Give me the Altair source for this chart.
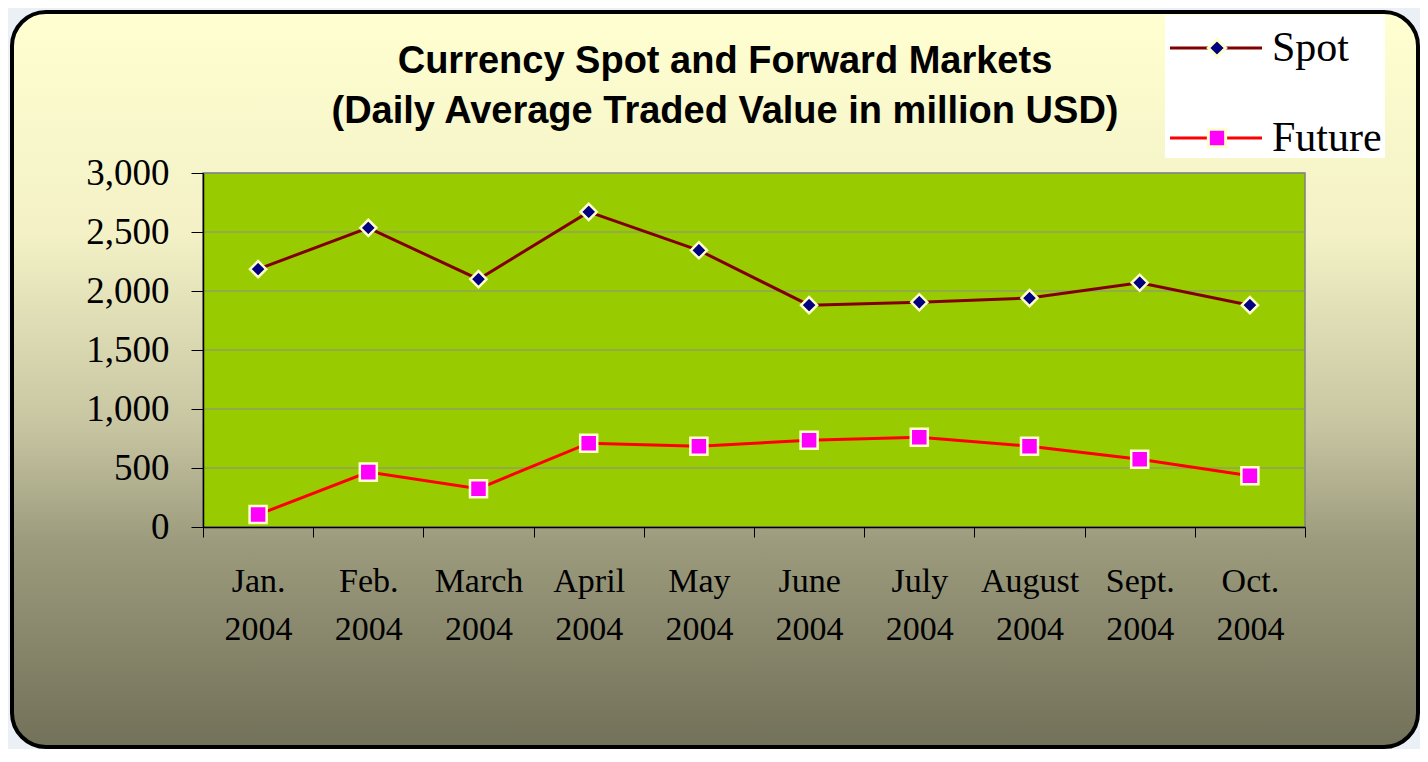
import altair as alt
import pandas as pd

months = ["Jan.|2004", "Feb.|2004", "March|2004", "April|2004", "May|2004",
          "June|2004", "July|2004", "August|2004", "Sept.|2004", "Oct.|2004"]
spot = [2185, 2535, 2100, 2670, 2345, 1880, 1905, 1940, 2070, 1880]
future = [105, 465, 325, 710, 685, 735, 760, 685, 575, 435]
grid_values = [500, 1000, 1500, 2000, 2500, 3000]

W, H = 1102, 354
PL, PT, PR, PB = 195, 165, 115, 222

df = pd.DataFrame({"month": months, "Spot": spot, "Future": future})
one = pd.DataFrame({"a": [0]})
grid_df = pd.DataFrame({"v": grid_values})

serif = "Liberation Serif"

xenc = alt.X("month:N", sort=months, scale=alt.Scale(paddingInner=0, paddingOuter=0),
             axis=alt.Axis(title=None, tickBand="extent", labelAngle=0, zindex=1,
                           labelExpr="split(datum.label, '|')", labelFont=serif,
                           labelFontSize=34, labelLineHeight=48, labelColor="#000000",
                           labelPadding=27, tickColor="#000000", tickSize=10,
                           domainColor="#000000", domainWidth=1.5, labelBaseline="top"))
yscale = alt.Scale(domain=[0, 3000], nice=False)
yenc_axis = alt.Axis(title=None, values=[0, 500, 1000, 1500, 2000, 2500, 3000], format=",.0f",
                     labelFont=serif, labelFontSize=37, labelColor="#000000", labelPadding=22,
                     tickColor="#000000", tickSize=12, domainColor="#000000", domainWidth=1.5,
                     grid=False, zindex=1)

bg = alt.Chart(one).mark_rect(
    fill=alt.Gradient(gradient="linear", x1=0, x2=0, y1=0, y2=1,
                      stops=[alt.GradientStop(color="#FFFFD2", offset=0),
                             alt.GradientStop(color="#F3F1C5", offset=0.3),
                             alt.GradientStop(color="#C8C6A2", offset=0.56),
                             alt.GradientStop(color="#9C9B7D", offset=0.72),
                             alt.GradientStop(color="#727159", offset=1)]),
    stroke="#000000", strokeWidth=4, cornerRadius=34
).encode(x=alt.value(-191), x2=alt.value(W + 113), y=alt.value(-161), y2=alt.value(H + 220))

plotbg = alt.Chart(one).mark_rect(fill="#99CC00", stroke="#808080", strokeWidth=1.5).encode(
    x=alt.value(0), x2=alt.value(W), y=alt.value(0), y2=alt.value(H))

grid = alt.Chart(grid_df).mark_rule(color="#8C8C8C", strokeWidth=1).encode(
    y=alt.Y("v:Q", scale=yscale, axis=yenc_axis), x=alt.value(0), x2=alt.value(W))

spot_line = alt.Chart(df).mark_line(color="#800000", strokeWidth=3).encode(
    x=xenc, y=alt.Y("Spot:Q", scale=yscale, axis=yenc_axis))
spot_pts = alt.Chart(df).mark_point(shape="diamond", filled=True, fill="#000080",
                                    stroke="#FFFFCC", strokeWidth=2.5, size=260, opacity=1).encode(
    x=xenc, y=alt.Y("Spot:Q", scale=yscale))
fut_line = alt.Chart(df).mark_line(color="#FF0000", strokeWidth=3).encode(
    x=xenc, y=alt.Y("Future:Q", scale=yscale))
fut_pts = alt.Chart(df).mark_point(shape="square", filled=True, fill="#FF00FF",
                                   stroke="#FFFFCC", strokeWidth=2.5, size=290, opacity=1).encode(
    x=xenc, y=alt.Y("Future:Q", scale=yscale))

# title
t1 = alt.Chart(one).mark_text(text="Currency Spot and Forward Markets", font="Liberation Sans",
                              fontWeight="bold", fontSize=38, color="#000000", align="center",
                              baseline="middle").encode(x=alt.value(522), y=alt.value(-111))
t2 = alt.Chart(one).mark_text(text="(Daily Average Traded Value in million USD)", font="Liberation Sans",
                              fontWeight="bold", fontSize=38, color="#000000", align="center",
                              baseline="middle").encode(x=alt.value(522), y=alt.value(-61))

# legend
leg_box = alt.Chart(one).mark_rect(fill="#FFFFFF").encode(
    x=alt.value(962), x2=alt.value(1182), y=alt.value(-158), y2=alt.value(-15))
leg = []
for name, lc, shape, fc, yy, sz in [("Spot", "#800000", "diamond", "#000080", -125, 300),
                                    ("Future", "#FF0000", "square", "#FF00FF", -35, 300)]:
    leg.append(alt.Chart(one).mark_rule(color=lc, strokeWidth=3).encode(
        x=alt.value(967), x2=alt.value(1059), y=alt.value(yy)))
    leg.append(alt.Chart(one).mark_point(shape=shape, filled=True, fill=fc, stroke="#FFFFCC",
                                         strokeWidth=3, size=sz, opacity=1).encode(
        x=alt.value(1014), y=alt.value(yy)))
    leg.append(alt.Chart(one).mark_text(text=name, font=serif, fontSize=42, color="#000000",
                                        align="left", baseline="middle").encode(
        x=alt.value(1069), y=alt.value(yy)))

chart = alt.layer(bg, plotbg, grid, spot_line, fut_line, spot_pts, fut_pts, t1, t2, leg_box, *leg).properties(
    width=W, height=H,
    autosize=alt.AutoSizeParams(type="none"),
    padding={"left": PL, "top": PT, "right": PR, "bottom": PB},
    background="#EAF0F6",
).configure_view(stroke=None)

chart.save("out.html", embed_options={"renderer": "svg", "actions": False})
